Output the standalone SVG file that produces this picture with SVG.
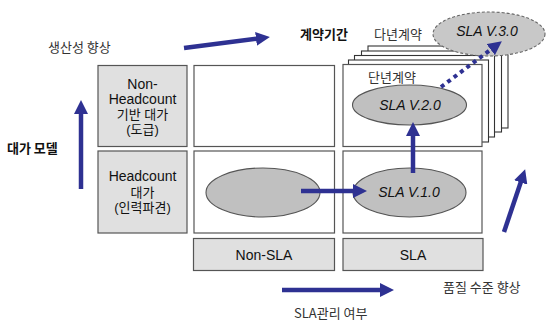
<svg xmlns="http://www.w3.org/2000/svg" width="546" height="322" viewBox="0 0 546 322">
  <style>
    text { font-family: "Liberation Sans", "Noto Sans CJK KR", sans-serif; }
    .hdr { fill: #e0e0e0; stroke: #555; stroke-width: 1.2; }
    .cell { fill: #fff; stroke: #555; stroke-width: 1.2; }
    .sheet { fill: #fff; stroke: #333; stroke-width: 1.1; }
    .oval { fill: #c0c0c0; stroke: #555; stroke-width: 1.1; }
    .oval-next { fill: #c8c8c8; stroke: #666; stroke-width: 1.1; stroke-dasharray: 3 2; }
    .lbl { font-size: 14px; fill: #111; text-anchor: middle; }
    .lbl-ko { font-size: 13px; }
    .ko { font-family: "Noto Sans CJK KR", "Liberation Sans", sans-serif; font-size: 13px; fill: #333; }
    .ko-b { font-family: "Noto Sans CJK KR", "Liberation Sans", sans-serif; font-size: 13px; font-weight: bold; fill: #111; }
    .ver { font-size: 14px; font-style: italic; fill: #111; text-anchor: middle; }
    .arrow { stroke: #2e3192; stroke-width: 4.5; fill: none; marker-end: url(#head); }
    .dots { stroke: #2e3192; stroke-width: 4; fill: none; stroke-dasharray: 4 4; marker-end: url(#head); }
  </style>
  <defs>
    <marker id="head" viewBox="0 -7 14 14" markerWidth="14" markerHeight="14" refX="1" refY="0" orient="auto" markerUnits="userSpaceOnUse">
      <path d="M0,-7 L14,0 L0,7 z" fill="#2e3192"/>
    </marker>
  </defs>

  <!-- axis captions -->
  <g id="axis-labels">
    <text class="ko" x="48" y="52">생산성 향상</text>
    <text class="ko-b" x="300" y="39">계약기간</text>
    <text class="ko" x="374" y="39">다년계약</text>
    <text class="ko-b" x="7" y="153">대가 모델</text>
    <text class="ko" x="294" y="318" fill="#111">SLA관리 여부</text>
    <text class="ko" x="443" y="292">품질 수준 향상</text>
  </g>

  <!-- row headers -->
  <g id="row-non-headcount">
    <rect class="hdr" x="98" y="65.5" width="89" height="81"/>
    <text class="lbl" x="142.5" y="89">Non-</text>
    <text class="lbl" x="142.5" y="104">Headcount</text>
    <text class="lbl lbl-ko" x="142.5" y="119">기반 대가</text>
    <text class="lbl lbl-ko" x="142.5" y="134">(도급)</text>
  </g>
  <g id="row-headcount">
    <rect class="hdr" x="98" y="151" width="89" height="82"/>
    <text class="lbl" x="142.5" y="181">Headcount</text>
    <text class="lbl lbl-ko" x="142.5" y="197">대가</text>
    <text class="lbl lbl-ko" x="142.5" y="212">(인력파견)</text>
  </g>

  <!-- column headers -->
  <g id="col-non-sla">
    <rect class="hdr" x="193.5" y="238.5" width="141" height="32"/>
    <text class="lbl" x="264" y="260">Non-SLA</text>
  </g>
  <g id="col-sla">
    <rect class="hdr" x="343" y="238.5" width="140" height="32"/>
    <text class="lbl" x="413" y="260">SLA</text>
  </g>

  <!-- grid cells -->
  <g id="cell-nonsla-top">
    <rect class="cell" x="194" y="65.5" width="140.5" height="81"/>
  </g>
  <g id="cell-nonsla-bottom">
    <rect class="cell" x="194" y="151" width="140.5" height="82"/>
    <ellipse class="oval" cx="263" cy="192.5" rx="57" ry="24.5"/>
  </g>

  <!-- stacked yearly contracts behind the SLA top cell -->
  <g id="cell-sla-top">
    <rect class="sheet" x="368" y="46" width="140" height="82"/>
    <rect class="sheet" x="361.5" y="51" width="140" height="81"/>
    <rect class="sheet" x="354.5" y="55.5" width="140" height="81.5"/>
    <rect class="sheet" x="348.5" y="60" width="140" height="82"/>
    <rect class="cell" x="343" y="64.5" width="139" height="82"/>
    <text class="ko" x="368" y="82">단년계약</text>
  </g>
  <g id="sla-v2">
    <ellipse class="oval" cx="409.5" cy="105" rx="57" ry="20"/>
    <text class="ver" x="410" y="110">SLA V.2.0</text>
  </g>

  <g id="cell-sla-bottom">
    <rect class="cell" x="343" y="151" width="139" height="82"/>
  </g>
  <g id="sla-v1">
    <ellipse class="oval" cx="409.5" cy="192.5" rx="56.5" ry="24.5"/>
    <text class="ver" x="409" y="197">SLA V.1.0</text>
  </g>

  <g id="sla-v3">
    <ellipse class="oval-next" cx="489" cy="34" rx="56" ry="22"/>
    <text class="ver" x="487" y="36">SLA V.3.0</text>
  </g>

  <!-- connectors -->
  <g id="connectors">
    <line class="arrow" x1="184" y1="48" x2="257" y2="38.7"/>
    <line class="arrow" x1="81" y1="189" x2="81" y2="113"/>
    <line class="arrow" x1="301" y1="191" x2="354" y2="191"/>
    <line class="arrow" x1="413" y1="173" x2="413" y2="135"/>
    <line class="arrow" x1="282" y1="290" x2="381" y2="290"/>
    <line class="arrow" x1="504" y1="232" x2="521" y2="181.5"/>
    <line class="dots" x1="441" y1="87" x2="491.5" y2="49"/>
  </g>
</svg>
